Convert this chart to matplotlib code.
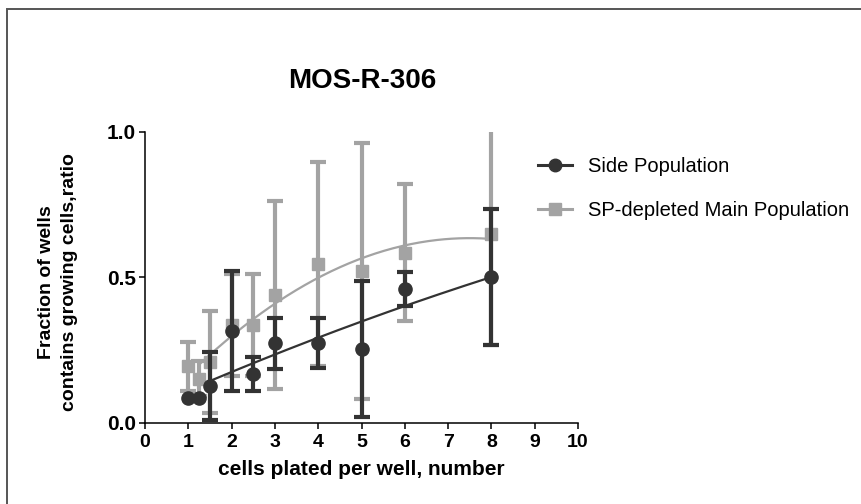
import matplotlib
matplotlib.use("Agg")
import matplotlib.pyplot as plt
from matplotlib.lines import Line2D
from matplotlib.patches import Rectangle
import numpy as np

plt.rcParams['font.family'] = ['Liberation Sans', 'DejaVu Sans']

# Limiting dilution results: fraction of wells with growth vs cells plated
cells_plated = [1, 1.25, 1.5, 2, 2.5, 3, 4, 5, 6, 8]

side_pop = [0.084, 0.084, 0.127, 0.315, 0.167, 0.272, 0.272, 0.252, 0.459, 0.501]
side_pop_sd = [np.nan, np.nan, 0.117, 0.205, 0.057, 0.087, 0.086, 0.233, 0.057, 0.234]

main_pop = [0.194, 0.150, 0.209, 0.335, 0.335, 0.438, 0.545, 0.522, 0.584, 0.647]
main_pop_sd = [0.084, 0.060, 0.175, 0.175, 0.175, 0.324, 0.350, 0.440, 0.235, 0.380]

x_ticks = list(range(0, 11))
y_ticks = [0.0, 0.5, 1.0]

dark = '#333333'
light = '#a3a3a3'

fig = plt.figure(figsize=(8.61, 5.04), dpi=100)

# outer frame, only its top and left edges fall inside the image
fig.patches.append(Rectangle((7 / 861, -0.1), 1.2, 1 - 9 / 504 + 0.1,
                             transform=fig.transFigure, fill=False,
                             edgecolor='#555555', linewidth=1.4))

ax = fig.add_axes([145 / 861, 1 - 422.5 / 504, 433 / 861, 290.8 / 504])

x = np.array(cells_plated)

# second order polynomial fits
fit_x_main = np.linspace(1.25, 8, 200)
c_main = np.polyfit(x, main_pop, 2)
ax.plot(fit_x_main, np.polyval(c_main, fit_x_main), color=light, lw=1.6, zorder=2)

ax.errorbar(x, main_pop, yerr=main_pop_sd, fmt='s', color=light, ms=8,
            elinewidth=3.0, capsize=6, capthick=3.0, zorder=3)

fit_x_side = np.linspace(1.5, 8, 200)
c_side = np.polyfit(x, side_pop, 2)
ax.plot(fit_x_side, np.polyval(c_side, fit_x_side), color=dark, lw=1.6, zorder=4)

ax.errorbar(x, side_pop, yerr=side_pop_sd, fmt='o', color=dark, ms=9.5,
            elinewidth=3.0, capsize=6, capthick=3.0, zorder=5)

ax.set_xlim(0, 10)
ax.set_ylim(0, 1.0)
ax.set_xticks(x_ticks)
ax.set_yticks(y_ticks)
ax.set_yticklabels([f"{v:.1f}" for v in y_ticks])
for s in ['top', 'right']:
    ax.spines[s].set_visible(False)
for s in ['left', 'bottom']:
    ax.spines[s].set_linewidth(1.1)
ax.tick_params(direction='out', length=4.5, width=1.1)
ax.tick_params(axis='y', labelsize=15, pad=2)
ax.tick_params(axis='x', labelsize=14, pad=4)
for lab in ax.get_xticklabels() + ax.get_yticklabels():
    lab.set_fontweight('bold')

ax.set_xlabel('cells plated per well, number', fontsize=15, fontweight='bold', labelpad=6)
fig.text(58 / 861, 1 - 282 / 504, 'Fraction of wells\ncontains growing cells,ratio',
         rotation=90, ha='center', va='center', fontsize=14, fontweight='bold',
         multialignment='center', linespacing=1.5)

fig.text(362 / 861, 1 - 81 / 504, 'MOS-R-306', ha='center', va='center',
         fontsize=20, fontweight='bold')

handles = [
    Line2D([], [], color=dark, marker='o', ms=9, lw=2.2),
    Line2D([], [], color=light, marker='s', ms=8, lw=2.2),
]
fig.legend(handles, ['Side Population', 'SP-depleted Main Population'],
           loc='upper left', bbox_to_anchor=(538 / 861, 1 - 157 / 504),
           frameon=False, fontsize=14.5, handlelength=1.7, handletextpad=0.8,
           labelspacing=1.22, borderpad=0, borderaxespad=0)

fig.savefig('out.png', dpi=100)
